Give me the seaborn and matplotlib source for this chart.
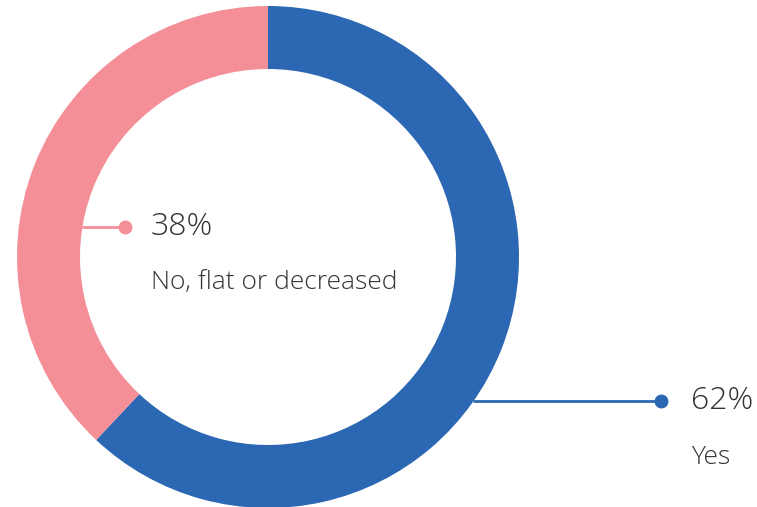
import matplotlib
matplotlib.use("Agg")
import matplotlib.pyplot as plt
import seaborn as sns

# -------------------------------
# Data
# -------------------------------
labels = ["Yes", "No, flat or decreased"]
values = [62, 38]
colors = ["#2b67b2", "#f48e97"]

sns.set_theme(style="white")
plt.rcParams["font.family"] = ["Open Sans", "DejaVu Sans"]

W, H = 757, 507
fig = plt.figure(figsize=(W / 100, H / 100), dpi=100)
ax = fig.add_axes([0, 0, 1, 1])

# donut, pixel-based coordinates (y measured from bottom)
cx, cy = 268, H - 257
r_out, ring = 251, 63

ax.pie(
    values,
    colors=colors,
    startangle=90,
    counterclock=False,
    center=(cx, cy),
    radius=r_out,
    wedgeprops=dict(width=ring, linewidth=0),
    frame=True,
)
ax.set_xlim(0, W)
ax.set_ylim(0, H)
ax.set_aspect("equal")
ax.axis("off")

txt_color = "#333333"

# -------------------------------
# Callouts
# -------------------------------
# Yes (62%) - line from outer edge to the right
y_yes = H - 401
ax.plot([473, 661], [y_yes, y_yes], color=colors[0], lw=2, solid_capstyle="butt")
ax.plot(661, y_yes, "o", color=colors[0], ms=9)
ax.text(691, y_yes, f"{values[0]}%", fontsize=23, color=txt_color,
        fontweight="light", va="center", ha="left")
ax.text(691, H - 457, labels[0], fontsize=19, color=txt_color,
        fontweight="light", va="center", ha="left")

# No (38%) - line from inner edge into the hole
y_no = H - 227
ax.plot([82, 125], [y_no, y_no], color=colors[1], lw=2, solid_capstyle="butt")
ax.plot(125, y_no, "o", color=colors[1], ms=9)
ax.text(151, y_no, f"{values[1]}%", fontsize=23, color=txt_color,
        fontweight="light", va="center", ha="left")
ax.text(151, H - 282, labels[1], fontsize=19, color=txt_color,
        fontweight="light", va="center", ha="left")

plt.savefig("out.png", dpi=100)
